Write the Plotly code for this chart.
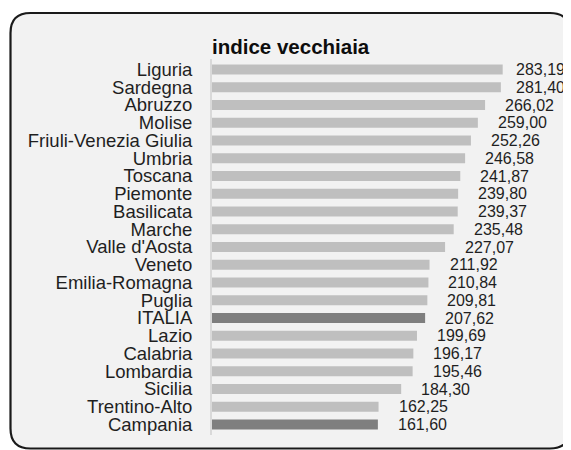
import plotly.graph_objects as go

regions = ["Liguria", "Sardegna", "Abruzzo", "Molise", "Friuli-Venezia Giulia", "Umbria",
           "Toscana", "Piemonte", "Basilicata", "Marche", "Valle d'Aosta", "Veneto",
           "Emilia-Romagna", "Puglia", "ITALIA", "Lazio", "Calabria", "Lombardia",
           "Sicilia", "Trentino-Alto", "Campania"]
values = [283.19, 281.40, 266.02, 259.00, 252.26, 246.58, 241.87, 239.80, 239.37, 235.48,
          227.07, 211.92, 210.84, 209.81, 207.62, 199.69, 196.17, 195.46, 184.30, 162.25, 161.60]
highlight = ["ITALIA", "Campania"]
title_text = "indice vecchiaia"

# the page body adds an 8px margin; lay the figure out in window pixels minus that
OFF = 8
W, H = 571 - OFF, 450 - OFF
ML, MR, MT, MB = 212 - OFF, 10, 59 - OFF, 15
PW, PH = W - ML - MR, H - MT - MB
XMAX = 340
SCALE = PW / XMAX

LIGHT = "#bfbfbf"
DARK = "#7f7f7f"
TXT = "#1f1f1f"
FONT = "Liberation Sans, Arial, sans-serif"

colors = [DARK if r in highlight else LIGHT for r in regions]
labels = [f"{v:.2f}".replace(".", ",") for v in values]

fig = go.Figure()
fig.add_trace(go.Bar(
    x=values, y=regions, orientation="h",
    marker=dict(color=colors, line=dict(width=0)),
    hoverinfo="skip",
))

LABEL_W = 50
RIGHT_LIMIT = 564 - OFF
for r, v, t in zip(regions, values, labels):
    bar_end = ML + v * SCALE
    shift = min(18, RIGHT_LIMIT - LABEL_W - bar_end)
    fig.add_annotation(x=v, y=r, xref="x", yref="y", text=t, showarrow=False,
                       xanchor="left", yanchor="middle", xshift=shift, yshift=0,
                       font=dict(family=FONT, size=16, color=TXT))


def px2paper(px, py):
    return (px - OFF - ML) / PW, (H - MB - (py - OFF)) / PH


def rounded_rect(x0, y0, x1, y1, rad):
    def P(x, y):
        a, b = px2paper(x, y)
        return f"{a:.5f},{b:.5f}"
    return (f"M {P(x0 + rad, y0)} L {P(x1 - rad, y0)} Q {P(x1, y0)} {P(x1, y0 + rad)} "
            f"L {P(x1, y1 - rad)} Q {P(x1, y1)} {P(x1 - rad, y1)} "
            f"L {P(x0 + rad, y1)} Q {P(x0, y1)} {P(x0, y1 - rad)} "
            f"L {P(x0, y0 + rad)} Q {P(x0, y0)} {P(x0 + rad, y0)} Z")


fig.add_shape(type="path", xref="paper", yref="paper",
              path=rounded_rect(10.5, 13, 570, 448.5, 20),
              fillcolor="#f2f2f2", line=dict(color="#1a1a1a", width=2.2), layer="below")

fig.update_layout(
    width=W, height=H,
    margin=dict(l=ML, r=MR, t=MT, b=MB, pad=0),
    paper_bgcolor="white",
    plot_bgcolor="rgba(0,0,0,0)",
    bargap=0.44,
    showlegend=False,
    title=dict(text=f"<b>{title_text}</b>", x=0, xref="paper", xanchor="left",
               y=1 - (47 - OFF) / H, yref="container", yanchor="middle",
               font=dict(family=FONT, size=20.5, color="#0d0d0d")),
    xaxis=dict(range=[0, XMAX], visible=False, showgrid=False, zeroline=False, fixedrange=True),
    yaxis=dict(autorange="reversed", showgrid=False, zeroline=False, dtick=1,
               showline=True, linecolor="#d9d9d9", linewidth=2,
               ticks="outside", ticklen=14, tickcolor="rgba(0,0,0,0)",
               tickfont=dict(family=FONT, size=18.5, color=TXT)),
)

fig.write_html("out.html")
